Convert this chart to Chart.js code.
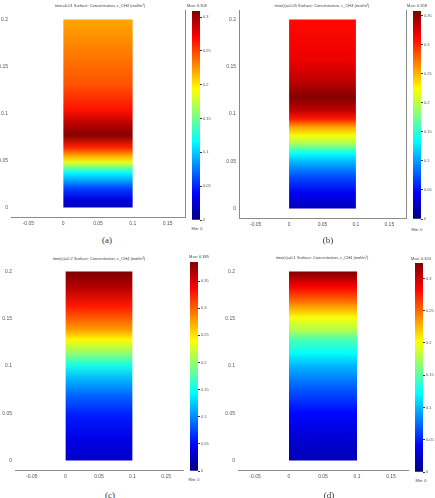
<!DOCTYPE html>
<html>
<head>
<meta charset="utf-8">
<script src="https://cdn.jsdelivr.net/npm/chart.js@4.4.0/dist/chart.umd.min.js"></script>
<style>
  body { margin: 0; background: #fff; width: 435px; height: 498px; position: relative; overflow: hidden; font-family: "Liberation Sans", sans-serif; }
  canvas { position: absolute; }
  .txt { position: absolute; white-space: nowrap; transform: translate(-50%, -50%); color: #444; font-size: 4px; }
  .cap { font-family: "Liberation Serif", serif; font-size: 9px; color: #333; }
</style>
</head>
<body>
<script>
// height along the column (m) and CH4 concentration (mol/m3)
const heightA = [0, 0.008, 0.019, 0.028, 0.037, 0.048, 0.054, 0.064, 0.077, 0.09, 0.104, 0.132, 0.2];
const concA = [0.018, 0.03, 0.055, 0.085, 0.115, 0.185, 0.215, 0.26, 0.307, 0.29, 0.265, 0.245, 0.22];

const heightB = [0, 0.016, 0.033, 0.048, 0.058, 0.069, 0.077, 0.086, 0.095, 0.104, 0.117, 0.136, 0.157, 0.2];
const concB = [0.02, 0.04, 0.07, 0.105, 0.135, 0.195, 0.22, 0.255, 0.305, 0.335, 0.356, 0.335, 0.32, 0.31];

const heightC = [0, 0.022, 0.047, 0.068, 0.085, 0.101, 0.114, 0.128, 0.138, 0.149, 0.163, 0.184, 0.2];
const concC = [0.027, 0.038, 0.058, 0.085, 0.115, 0.154, 0.2, 0.243, 0.277, 0.3, 0.327, 0.366, 0.385];

const heightD = [0, 0.022, 0.05, 0.078, 0.099, 0.114, 0.128, 0.138, 0.151, 0.163, 0.17, 0.184, 0.2];
const concD = [0.019, 0.026, 0.042, 0.071, 0.097, 0.123, 0.146, 0.178, 0.2, 0.233, 0.253, 0.285, 0.324];

// colour range maxima shown above each colour bar
const maxA = 0.309, maxB = 0.358, maxC = 0.385, maxD = 0.324;

// domain of the column (m)
const domainX = [0, 0.1];
const domainTop = 0.2;

const xTicks = [-0.05, 0, 0.05, 0.1, 0.15];
const yTicks = [0, 0.05, 0.1, 0.15, 0.2];
const barTicksA = [0, 0.05, 0.1, 0.15, 0.2, 0.25, 0.3];
const barTicksB = [0, 0.05, 0.1, 0.15, 0.2, 0.25, 0.3, 0.35];
const barTicksC = [0, 0.05, 0.1, 0.15, 0.2, 0.25, 0.3, 0.35];
const barTicksD = [0, 0.05, 0.1, 0.15, 0.2, 0.25, 0.3];

const titles = [
  'time=0.01  Surface: Concentration, c_CH4 (mol/m³)',
  'time(s)=0.05  Surface: Concentration, c_CH4 (mol/m³)',
  'time(s)=0.2  Surface: Concentration, c_CH4 (mol/m³)',
  'time(s)=0.1  Surface: Concentration, c_CH4 (mol/m³)'
];
const captions = ['(a)', '(b)', '(c)', '(d)'];

// jet colour map
function jet(t) {
  t = Math.max(0, Math.min(1, t));
  const c = v => Math.round(255 * Math.max(0, Math.min(1, v)));
  return `rgb(${c(1.5 - Math.abs(4 * t - 3))},${c(1.5 - Math.abs(4 * t - 2))},${c(1.5 - Math.abs(4 * t - 1))})`;
}

function fieldFill(heights, conc, max) {
  return function(ctx) {
    const chart = ctx.chart;
    if (!chart.chartArea) return null;
    const y = chart.scales.y;
    const h0 = heights[0], h1 = heights[heights.length - 1];
    const g = chart.ctx.createLinearGradient(0, y.getPixelForValue(h0), 0, y.getPixelForValue(h1));
    heights.forEach((h, i) => g.addColorStop((h - h0) / (h1 - h0), jet(conc[i] / max)));
    return g;
  };
}

function barFill(max) {
  return function(ctx) {
    const chart = ctx.chart;
    if (!chart.chartArea) return null;
    const y = chart.scales.y;
    const g = chart.ctx.createLinearGradient(0, y.getPixelForValue(0), 0, y.getPixelForValue(max));
    [0, 0.125, 0.375, 0.625, 0.875, 1].forEach(t => g.addColorStop(t, jet(t)));
    return g;
  };
}

// draws extra frame lines round the plot area
const framePlugin = {
  id: 'frame',
  afterDraw(chart, args, opts) {
    const a = chart.chartArea, c = chart.ctx;
    c.save();
    c.strokeStyle = '#8a8a8a';
    c.lineWidth = 1;
    c.beginPath();
    if (opts.right) { c.moveTo(a.right + 0.5, a.top); c.lineTo(a.right + 0.5, a.bottom); }
    c.stroke();
    c.restore();
  }
};

function addText(cls, text, x, y) {
  const d = document.createElement('div');
  d.className = cls;
  d.textContent = text;
  d.style.left = x + 'px';
  d.style.top = y + 'px';
  document.body.appendChild(d);
}

function makeCanvas(left, top, w, h) {
  const cv = document.createElement('canvas');
  cv.width = w; cv.height = h;
  cv.style.left = left + 'px';
  cv.style.top = top + 'px';
  document.body.appendChild(cv);
  return cv;
}

const tickFont = { family: 'Liberation Sans', size: 5 };

function makePanel(p) {
  const cv = makeCanvas(p.left, p.top, p.w, p.h);
  new Chart(cv, {
    type: 'line',
    data: {
      datasets: [{
        data: domainX.map(x => ({ x: x, y: domainTop })),
        backgroundColor: fieldFill(p.heights, p.conc, p.max),
        borderWidth: 0,
        pointRadius: 0,
        fill: { value: 0 }
      }]
    },
    options: {
      animation: false,
      responsive: false,
      layout: { padding: { top: p.padTop, right: p.padRight, left: 0, bottom: 0 } },
      plugins: { legend: { display: false }, tooltip: { enabled: false }, frame: { right: p.rightLine } },
      scales: {
        x: {
          type: 'linear', min: -0.075, max: 0.175,
          afterBuildTicks: s => { s.ticks = xTicks.map(v => ({ value: v })); },
          afterFit: s => { s.height = p.xH; },
          grid: { display: false, drawTicks: false },
          border: { display: true, color: '#8a8a8a' },
          ticks: { font: tickFont, color: '#555', padding: 4, maxRotation: 0, callback: v => String(v) }
        },
        y: {
          type: 'linear', min: -0.01, max: 0.21,
          afterBuildTicks: s => { s.ticks = yTicks.map(v => ({ value: v })); },
          afterFit: s => { s.width = p.yW; },
          grid: { display: false, drawTicks: false },
          border: { display: p.leftLine, color: '#8a8a8a' },
          ticks: { font: tickFont, color: '#555', padding: 3, callback: v => String(v) }
        }
      }
    },
    plugins: [framePlugin]
  });

  const bc = makeCanvas(p.barLeft, p.barTop - 6, 34, p.barH + 12);
  new Chart(bc, {
    type: 'bar',
    data: {
      labels: [''],
      datasets: [{ data: [[0, p.max]], backgroundColor: barFill(p.max), borderWidth: 0, barPercentage: 1, categoryPercentage: 1 }]
    },
    options: {
      animation: false,
      responsive: false,
      layout: { padding: { top: 6, bottom: 6, left: 0, right: 0 } },
      plugins: { legend: { display: false }, tooltip: { enabled: false } },
      scales: {
        x: { display: false },
        y: {
          position: 'right', min: 0, max: p.max,
          afterBuildTicks: s => { s.ticks = p.barTicks.map(v => ({ value: v })); },
          afterFit: s => { s.width = 26; },
          grid: { drawOnChartArea: false, tickLength: 2, color: '#333' },
          border: { display: false },
          ticks: { font: { family: 'Liberation Sans', size: 4 }, color: '#555', padding: 1, callback: v => String(v) }
        }
      }
    }
  });

  addText('txt', 'Max: ' + p.max, p.maxX, p.maxY);
  addText('txt', 'Min: 0', p.minX, p.minY);
  addText('txt', p.title, p.titleX, p.titleY);
  addText('txt cap', p.caption, p.capX, p.capY);
}

const panels = [
  { heights: heightA, conc: concA, max: maxA, barTicks: barTicksA, title: titles[0], caption: captions[0],
    left: 0, top: 0, w: 190, h: 232, padTop: 10, padRight: 5, yW: 11, xH: 15, leftLine: false, rightLine: true,
    barLeft: 192, barTop: 11, barH: 209, maxX: 197, maxY: 5, minX: 197, minY: 228,
    titleX: 100, titleY: 5, capX: 107, capY: 240 },
  { heights: heightB, conc: concB, max: maxB, barTicks: barTicksB, title: titles[1], caption: captions[1],
    left: 218, top: 0, w: 193, h: 232, padTop: 10, padRight: 5, yW: 21, xH: 14, leftLine: true, rightLine: true,
    barLeft: 413, barTop: 11, barH: 208, maxX: 417, maxY: 5, minX: 417, minY: 229,
    titleX: 322, titleY: 5, capX: 328, capY: 240 },
  { heights: heightC, conc: concC, max: maxC, barTicks: barTicksC, title: titles[2], caption: captions[2],
    left: 0, top: 250, w: 188, h: 232, padTop: 12, padRight: 5, yW: 15, xH: 12, leftLine: false, rightLine: false,
    barLeft: 190, barTop: 262, barH: 209, maxX: 199, maxY: 256, minX: 194, minY: 479,
    titleX: 99, titleY: 258, capX: 110, capY: 495 },
  { heights: heightD, conc: concD, max: maxD, barTicks: barTicksD, title: titles[3], caption: captions[3],
    left: 218, top: 250, w: 195, h: 232, padTop: 12, padRight: 5, yW: 20, xH: 12, leftLine: false, rightLine: false,
    barLeft: 415, barTop: 263, barH: 209, maxX: 421, maxY: 258, minX: 421, minY: 480,
    titleX: 322, titleY: 257, capX: 329, capY: 495 }
];

panels.forEach(makePanel);
</script>
</body>
</html>
